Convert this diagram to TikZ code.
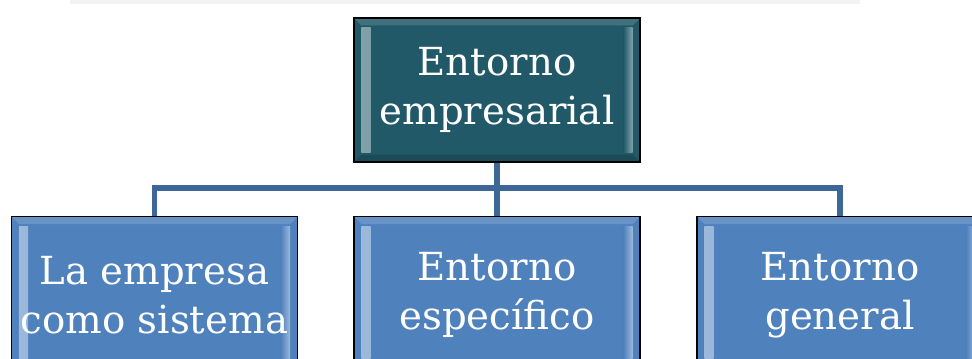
\documentclass[tikz,border=0pt]{standalone}
\usepackage{fontspec}
\setmainfont{DejaVu Serif}
\definecolor{topteal}{HTML}{215968}
\definecolor{boxblue}{HTML}{4F81BD}
\definecolor{linkblue}{HTML}{3D6796}
\definecolor{stripgray}{HTML}{F3F3F3}
\tikzset{
    box/.style={draw=black, line width=0.9pt, fill=#1, text=white, align=center,
        minimum width=8.58cm, minimum height=4.32cm, inner sep=0pt,
        font=\fontsize{33}{42}\selectfont,
        path picture={
            \shade[left color=#1!55!white, right color=#1]
                ([xshift=0.22cm,yshift=-0.3cm]path picture bounding box.north west)
                rectangle ([xshift=0.5cm,yshift=0.3cm]path picture bounding box.south west);
            \shade[left color=#1, right color=#1!55!white]
                ([xshift=-0.5cm,yshift=-0.3cm]path picture bounding box.north east)
                rectangle ([xshift=-0.22cm,yshift=0.3cm]path picture bounding box.south east);
            \fill[white, opacity=0.15]
                (path picture bounding box.north west) -- (path picture bounding box.north east)
                -- ([xshift=-0.22cm,yshift=-0.22cm]path picture bounding box.north east)
                -- ([xshift=0.22cm,yshift=-0.22cm]path picture bounding box.north west) -- cycle;
            \fill[black, opacity=0.15]
                (path picture bounding box.south west) -- (path picture bounding box.south east)
                -- ([xshift=-0.22cm,yshift=0.22cm]path picture bounding box.south east)
                -- ([xshift=0.22cm,yshift=0.22cm]path picture bounding box.south west) -- cycle;
        }},
    link/.style={draw=linkblue, line width=4.5pt}
}
\begin{document}
\begin{tikzpicture}[x=0.03cm,y=-0.03cm]
\useasboundingbox (0,0) rectangle (972,358);
\fill[stripgray] (70,0) rectangle (860,4);

\node[box=topteal] (entorno) at (497,90) {Entorno\\empresarial};

% bottom row runs past the lower edge
\foreach \name/\x/\txt in {sistema/154.5/{La empresa\\como sistema},especifico/497/{Entorno\\específico},general/840/{Entorno\\general}}
{
    \node[box=boxblue, minimum height=4.7cm] (\name) at (\x,295) {\txt};
}

\coordinate (bar) at (497,188);
\draw[link] (entorno.south) -- (bar);
\foreach \name in {sistema,especifico,general}
{
    \draw[link] (bar) -| (\name.north);
}
\end{tikzpicture}
\end{document}
